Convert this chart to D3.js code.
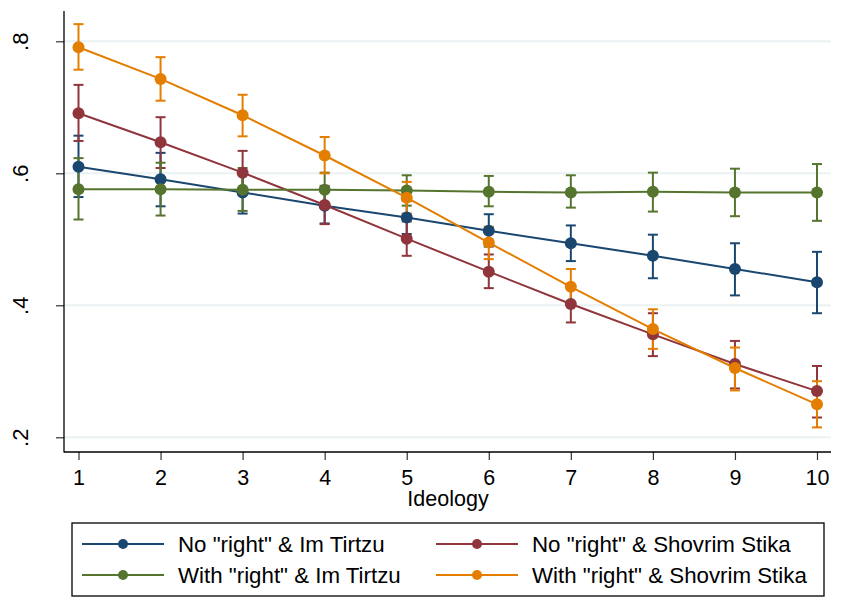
<!DOCTYPE html>
<html>
<head>
<meta charset="utf-8">
<script src="https://cdn.jsdelivr.net/npm/d3@7.9.0/dist/d3.min.js"></script>
<style>
  body { margin: 0; background: #fff; }
  svg { display: block; font-family: Arial, "Liberation Sans", Helvetica, sans-serif; }
</style>
</head>
<body>
<svg id="chart" width="841" height="606"></svg>
<script>
// ideology scale points
const ideology = [1, 2, 3, 4, 5, 6, 7, 8, 9, 10];

// predicted values and 95% CI bounds
const noRightImTirtzu = [0.610, 0.591, 0.571, 0.551, 0.533, 0.513, 0.494, 0.475, 0.455, 0.435];
const noRightImTirtzuLo = [0.564, 0.550, 0.539, 0.524, 0.508, 0.489, 0.467, 0.441, 0.415, 0.388];
const noRightImTirtzuHi = [0.657, 0.631, 0.603, 0.578, 0.558, 0.538, 0.521, 0.507, 0.494, 0.481];

const noRightShovrim = [0.691, 0.647, 0.601, 0.552, 0.501, 0.451, 0.402, 0.356, 0.311, 0.270];
const noRightShovrimLo = [0.649, 0.608, 0.569, 0.523, 0.475, 0.426, 0.374, 0.323, 0.274, 0.230];
const noRightShovrimHi = [0.734, 0.685, 0.634, 0.581, 0.527, 0.477, 0.430, 0.388, 0.346, 0.308];

const withRightImTirtzu = [0.576, 0.576, 0.575, 0.575, 0.574, 0.572, 0.571, 0.572, 0.571, 0.571];
const withRightImTirtzuLo = [0.530, 0.536, 0.543, 0.548, 0.551, 0.550, 0.548, 0.542, 0.535, 0.528];
const withRightImTirtzuHi = [0.623, 0.616, 0.608, 0.601, 0.597, 0.596, 0.597, 0.601, 0.607, 0.614];

const withRightShovrim = [0.791, 0.743, 0.688, 0.627, 0.563, 0.495, 0.428, 0.364, 0.305, 0.250];
const withRightShovrimLo = [0.757, 0.710, 0.656, 0.600, 0.539, 0.470, 0.402, 0.334, 0.271, 0.215];
const withRightShovrimHi = [0.826, 0.776, 0.719, 0.655, 0.587, 0.519, 0.455, 0.394, 0.336, 0.285];

const seriesNames = [
  'No "right" & Im Tirtzu',
  'No "right" & Shovrim Stika',
  'With "right" & Im Tirtzu',
  'With "right" & Shovrim Stika'
];
const yTicks = [0.2, 0.4, 0.6, 0.8];

const colors = ['#1a476f', '#90353b', '#55752f', '#e37e00'];

const series = [
  { name: seriesNames[0], est: noRightImTirtzu, lo: noRightImTirtzuLo, hi: noRightImTirtzuHi, color: colors[0] },
  { name: seriesNames[1], est: noRightShovrim, lo: noRightShovrimLo, hi: noRightShovrimHi, color: colors[1] },
  { name: seriesNames[2], est: withRightImTirtzu, lo: withRightImTirtzuLo, hi: withRightImTirtzuHi, color: colors[2] },
  { name: seriesNames[3], est: withRightShovrim, lo: withRightShovrimLo, hi: withRightShovrimHi, color: colors[3] }
];

const svg = d3.select('#chart');

// plot region edges
const plotLeft = 64, plotRight = 831, plotTop = 11, plotBottom = 452;

const x = d3.scaleLinear().domain([1, 10]).range([78.5, 817]);
const y = d3.scaleLinear().domain([0.2, 0.8]).range([437.3, 41.3]);

// gridlines
svg.append('g')
  .selectAll('line')
  .data(yTicks)
  .join('line')
  .attr('x1', plotLeft).attr('x2', plotRight)
  .attr('y1', d => y(d)).attr('y2', d => y(d))
  .attr('stroke', '#eaf2f3')
  .attr('stroke-width', 2);

// y axis
const yAxis = svg.append('g')
  .attr('transform', `translate(${plotLeft},0)`)
  .call(d3.axisLeft(y).tickValues(yTicks).tickSize(8).tickFormat(d => d3.format('.1f')(d).replace(/^0/, '')));
yAxis.select('.domain').remove();
yAxis.selectAll('.tick line').attr('stroke', '#333').attr('stroke-width', 1.2);
yAxis.selectAll('.tick text')
  .attr('font-size', 22)
  .attr('fill', '#000')
  .attr('text-anchor', 'middle')
  .attr('x', 0).attr('dy', 0)
  .attr('transform', 'translate(-36,0) rotate(-90)');

// x axis
const xAxis = svg.append('g')
  .attr('transform', `translate(0,${plotBottom})`)
  .call(d3.axisBottom(x).tickValues(ideology).tickSize(8).tickFormat(d3.format('d')));
xAxis.select('.domain').remove();
xAxis.selectAll('.tick line').attr('stroke', '#333').attr('stroke-width', 1.2);
xAxis.selectAll('.tick text')
  .attr('font-size', 21.5)
  .attr('fill', '#000')
  .attr('y', 33).attr('dy', 0);

// axis lines
svg.append('line')
  .attr('x1', plotLeft).attr('x2', plotLeft).attr('y1', plotTop).attr('y2', plotBottom + 0.6)
  .attr('stroke', '#000').attr('stroke-width', 1.3);
svg.append('line')
  .attr('x1', plotLeft).attr('x2', plotRight).attr('y1', plotBottom).attr('y2', plotBottom)
  .attr('stroke', '#000').attr('stroke-width', 1.3);

svg.append('text')
  .attr('x', 448).attr('y', 505.5)
  .attr('text-anchor', 'middle')
  .attr('font-size', 21.5)
  .text('Ideology');

// confidence intervals first
const capHalf = 5;
series.forEach(s => {
  const g = svg.append('g')
    .attr('stroke', s.color)
    .attr('stroke-width', 2)
    .attr('fill', 'none');
  ideology.forEach((v, i) => {
    g.append('line')
      .attr('x1', x(v)).attr('x2', x(v))
      .attr('y1', y(s.lo[i])).attr('y2', y(s.hi[i]));
    g.append('line')
      .attr('x1', x(v) - capHalf).attr('x2', x(v) + capHalf)
      .attr('y1', y(s.lo[i])).attr('y2', y(s.lo[i]));
    g.append('line')
      .attr('x1', x(v) - capHalf).attr('x2', x(v) + capHalf)
      .attr('y1', y(s.hi[i])).attr('y2', y(s.hi[i]));
  });
});

// lines and markers
const line = d3.line().x((d, i) => x(ideology[i])).y(d => y(d));
series.forEach(s => {
  svg.append('path')
    .attr('d', line(s.est))
    .attr('fill', 'none')
    .attr('stroke', s.color)
    .attr('stroke-width', 2);
  svg.append('g')
    .selectAll('circle')
    .data(s.est)
    .join('circle')
    .attr('cx', (d, i) => x(ideology[i]))
    .attr('cy', d => y(d))
    .attr('r', 6)
    .attr('fill', s.color);
});

// legend
const legend = svg.append('g');
legend.append('rect')
  .attr('x', 72).attr('y', 523)
  .attr('width', 752).attr('height', 73)
  .attr('fill', '#fff')
  .attr('stroke', '#000')
  .attr('stroke-width', 1.3);

const legendCols = [82, 436];
const legendRows = [544, 575];
series.forEach((s, i) => {
  const lx = legendCols[i % 2];
  const ly = legendRows[Math.floor(i / 2)];
  legend.append('line')
    .attr('x1', lx).attr('x2', lx + 82)
    .attr('y1', ly).attr('y2', ly)
    .attr('stroke', s.color).attr('stroke-width', 2);
  legend.append('circle')
    .attr('cx', lx + 41).attr('cy', ly)
    .attr('r', 5)
    .attr('fill', s.color);
  legend.append('text')
    .attr('x', lx + 96).attr('y', ly)
    .attr('dy', '0.36em')
    .attr('font-size', 22.3)
    .text(s.name);
});
</script>
</body>
</html>
